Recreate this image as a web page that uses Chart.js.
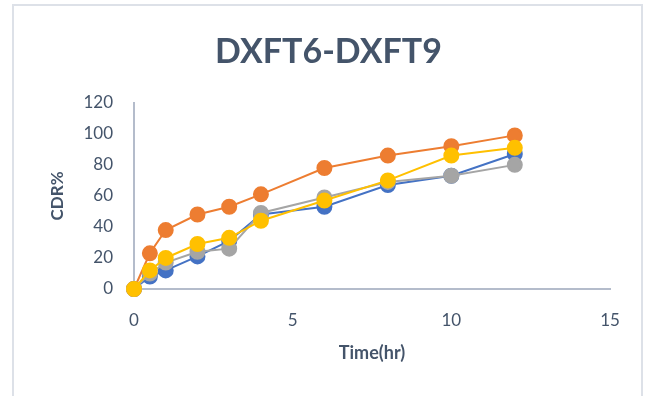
<!DOCTYPE html>
<html>
<head>
<meta charset="utf-8">
<script src="https://cdn.jsdelivr.net/npm/chart.js@4.4.1/dist/chart.umd.min.js"></script>
<style>
  html, body { margin: 0; padding: 0; background: #fff; }
  #wrap { position: relative; width: 650px; height: 396px; }
  #frame {
    position: absolute; left: 12px; top: 4px; width: 631px; height: 400px;
    border: 2px solid #DDE1E8; border-bottom: none; box-sizing: border-box;
  }
  canvas { position: absolute; left: 0; top: 0; }
</style>
</head>
<body>
<div id="wrap">
  <div id="frame"></div>
  <canvas id="myChart" width="650" height="396"></canvas>
</div>
<script>
// temps (heures)
var times = [0, 0.5, 1, 2, 3, 4, 6, 8, 10, 12];

// CDR% par formulation
var dxft6 = [0, 8, 12, 21, 31, 48, 53, 67, 73, 87];
var dxft7 = [0, 23, 38, 48, 53, 61, 78, 86, 92, 99];
var dxft8 = [0, 10, 17, 24, 26, 49, 59, 69, 73, 80];
var dxft9 = [0, 12, 20, 29, 33, 44, 57, 70, 86, 91];

var xTicks = [0, 5, 10, 15];
var yTicks = [0, 20, 40, 60, 80, 100, 120];

var textColor = '#44546A';
var axisColor = '#B4BCCB';
var fontFamily = 'Lato, "Open Sans", sans-serif';

function toPoints(values) {
  return values.map(function(v, i) { return { x: times[i], y: v }; });
}

function makeSet(label, values, color, order) {
  return {
    label: label,
    data: toPoints(values),
    borderColor: color,
    backgroundColor: color,
    pointBackgroundColor: color,
    pointBorderColor: color,
    borderWidth: 2,
    pointRadius: 7,
    pointHoverRadius: 7,
    order: order,
    clip: false,
    tension: 0
  };
}

var ctx = document.getElementById('myChart').getContext('2d');
var chart = new Chart(ctx, {
  type: 'line',
  data: {
    datasets: [
      makeSet('DXFT6', dxft6, '#4472C4', 4),
      makeSet('DXFT7', dxft7, '#ED7D31', 3),
      makeSet('DXFT8', dxft8, '#A5A5A5', 2),
      makeSet('DXFT9', dxft9, '#FFC000', 1)
    ]
  },
  options: {
    responsive: false,
    animation: false,
    layout: { padding: { left: 47, right: 40, top: 0, bottom: 32 } },
    plugins: {
      legend: { display: false },
      tooltip: { enabled: false },
      title: {
        display: true,
        text: 'DXFT6-DXFT9',
        color: textColor,
        font: { family: fontFamily, size: 34, weight: 'bold' },
        padding: { top: 32, bottom: 30 }
      }
    },
    scales: {
      x: {
        type: 'linear',
        min: 0,
        max: 15,
        afterBuildTicks: function(scale) {
          scale.ticks = xTicks.map(function(v) { return { value: v }; });
        },
        afterFit: function(scale) { scale.height = 75; },
        grid: { drawOnChartArea: false, drawTicks: false },
        border: { display: true, color: axisColor, width: 2 },
        ticks: {
          color: textColor,
          padding: 21,
          font: { family: fontFamily, size: 17 }
        },
        title: {
          display: true,
          text: 'Time(hr)',
          color: textColor,
          padding: { top: 0, bottom: 0 },
          font: { family: fontFamily, size: 18, weight: 'bold' }
        }
      },
      y: {
        min: 0,
        max: 120,
        afterBuildTicks: function(scale) {
          scale.ticks = yTicks.map(function(v) { return { value: v }; });
        },
        afterFit: function(scale) { scale.width = 87; },
        grid: { drawOnChartArea: false, drawTicks: false },
        border: { display: true, color: axisColor, width: 2 },
        ticks: {
          color: textColor,
          padding: 21,
          font: { family: fontFamily, size: 17 }
        },
        title: {
          display: true,
          text: 'CDR%',
          color: textColor,
          padding: { top: 0, bottom: 0 },
          font: { family: fontFamily, size: 17, weight: 'bold' }
        }
      }
    }
  }
});
</script>
</body>
</html>
